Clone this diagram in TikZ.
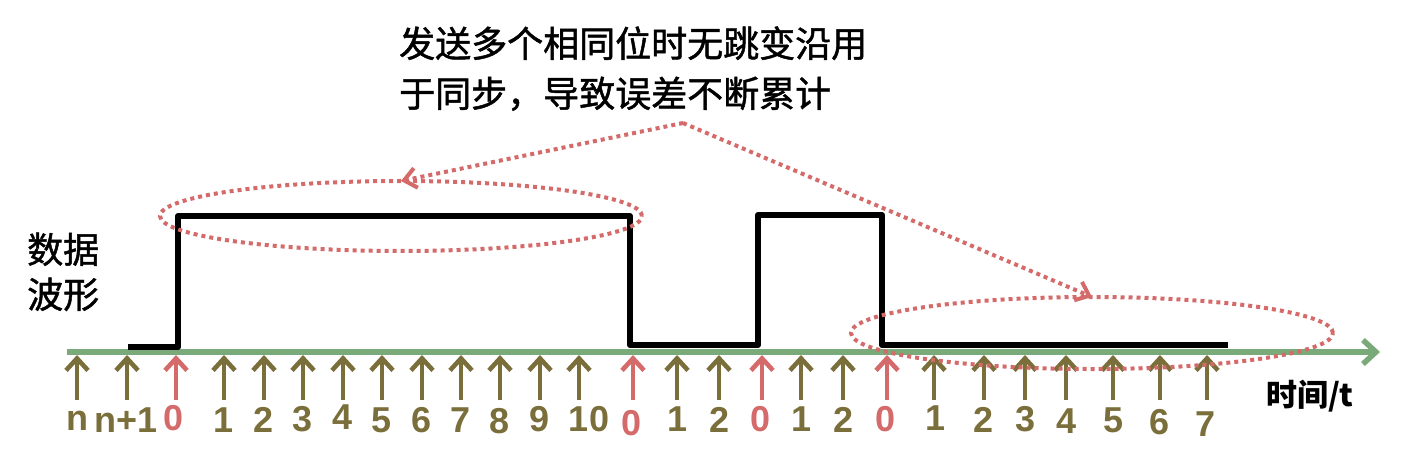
\documentclass[tikz,border=0pt]{standalone}
\usepackage{fontspec}
\setmainfont{Liberation Sans}
\newfontfamily\cjk[BoldFont={Noto Sans CJK SC},BoldFeatures={FakeBold=1.3}]{Noto Sans CJK SC}
\newfontfamily\cjkb{Noto Sans CJK SC}
\usetikzlibrary{arrows.meta,shapes.geometric}
\definecolor{axisgreen}{RGB}{122,170,122}
\definecolor{tickolive}{RGB}{122,110,58}
\definecolor{pinkred}{RGB}{212,106,106}
\begin{document}
\begin{tikzpicture}[x=1pt,y=-1pt,
  uparr/.style={line width=4.6pt,-{Straight Barb[length=12pt,width=22pt]}},
  lab/.style={inner sep=0pt,anchor=base,font=\bfseries\fontsize{36}{36}\selectfont},
  axisline/.style={axisgreen,line width=5.5pt,-{Straight Barb[length=13pt,width=24pt]}},
  wave/.style={black,line width=6pt,line join=round},
  dotell/.style={ellipse,draw=pinkred,line width=4pt,dash pattern=on 4pt off 4pt,inner sep=0pt,outer sep=0pt},
  dotarr/.style={pinkred,line width=4pt,dash pattern=on 4pt off 4pt,-{Straight Barb[length=12pt,width=20pt]}},
  cjktext/.style={inner sep=0pt,anchor=base west,font=\cjk\bfseries\fontsize{36}{36}\selectfont},
]
\useasboundingbox (0,0) rectangle (1404,454);
% axis
\coordinate (axs) at (67,352);
\coordinate (axe) at (1380,352);
\draw[axisline] (axs) -- (axe);
% waveform
\draw[wave] (128,347) -- (178,347) -- (178,216) -- (630,216) -- (630,345) -- (758,345)
  -- (758,215) -- (882,215) -- (882,345) -- (1228,345);
% sampling arrows and labels
\foreach \x/\t/\c/\lx/\b [count=\i] in {
  77/n/tickolive/77/430, 127/n+1/tickolive/126/432, 176/0/pinkred/174/430,
  224/1/tickolive/224/432, 264/2/tickolive/264/432, 303/3/tickolive/303/431,
  343/4/tickolive/343/429, 382/5/tickolive/382/432, 422/6/tickolive/422/432,
  461/7/tickolive/461/432, 500/8/tickolive/500/433, 540/9/tickolive/540/431,
  579/10/tickolive/589/431, 633/0/pinkred/632/435, 677/1/tickolive/677/431,
  719/2/tickolive/719/432, 762/0/pinkred/760/431, 801/1/tickolive/801/431,
  843/2/tickolive/843/432, 887/0/pinkred/885/431, 934/1/tickolive/935/430,
  984/2/tickolive/983/432, 1025/3/tickolive/1025/431, 1066/4/tickolive/1066/433,
  1113/5/tickolive/1113/432, 1160/6/tickolive/1159/434, 1207/7/tickolive/1205/436}
{
  \coordinate (tail\i) at (\x,400);
  \coordinate (tip\i) at (\x,355);
  \draw[uparr,color=\c] (tail\i) -- (tip\i);
  \node[lab,text=\c] (lab\i) at (\lx,\b) {\t};
}
% texts
\node[cjktext] (title1) at (399,57) {发送多个相同位时无跳变沿用};
\node[cjktext] (title2) at (399,107) {于同步，导致误差不断累计};
\node[cjktext] (ylab1) at (27,263) {数据};
\node[cjktext] (ylab2) at (27,308) {波形};
\node[inner sep=0pt,anchor=base west,font=\cjkb\bfseries\fontsize{31}{31}\selectfont] (tlab) at (1266,406) {时间/t};
% dotted ellipses and arrows
\node[dotell,minimum width=482pt,minimum height=70pt] (e1) at (401,216) {};
\node[dotell,minimum width=482pt,minimum height=72pt] (e2) at (1092,333) {};
\coordinate (apex) at (683,123);
\draw[dotarr] (apex) -- (e1.north);
\draw[dotarr] (apex) -- (e2.north);
\end{tikzpicture}
\end{document}
